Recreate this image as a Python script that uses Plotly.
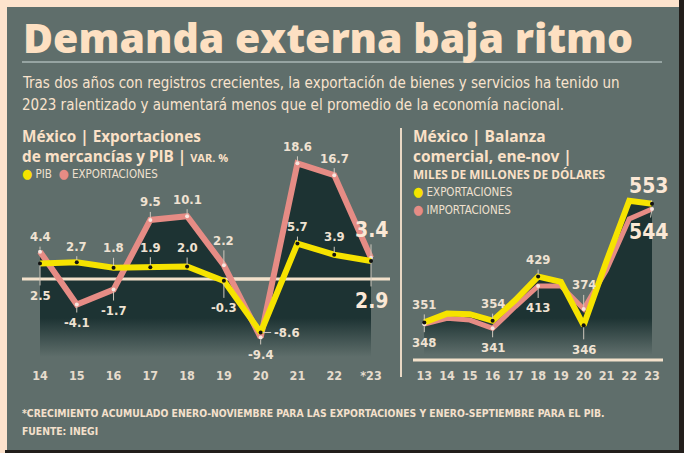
import plotly.graph_objects as go

W, H = 684, 453

# ---------------- data ----------------
L_CATS = ["14", "15", "16", "17", "18", "19", "20", "21", "22", "*23"]
PIB = [2.5, 2.7, 1.8, 1.9, 2.0, -0.3, -8.6, 5.7, 3.9, 2.9]
EXPORTS_VAR = [4.4, -4.1, -1.7, 9.5, 10.1, 2.2, -9.4, 18.6, 16.7, 3.4]

R_CATS = ["13", "14", "15", "16", "17", "18", "19", "20", "21", "22", "23"]
R_EXPORTS = [351, 366, 365, 354, 389, 429, 420, 346, 455, 558, 553]
R_IMPORTS = [348, 358, 355, 341, 378, 413, 413, 374, 440, 527, 544]
R_LABELED = ["13", "16", "18", "20", "23"]

TITLE = "Demanda externa baja ritmo"
SUBTITLE = ["Tras dos años con registros crecientes, la exportación de bienes y servicios ha tenido un",
            "2023 ralentizado y aumentará menos que el promedio de la economía nacional."]
L_HEAD = ["México | Exportaciones", "de mercancías y PIB | ", "VAR. %"]
R_HEAD = ["México | Balanza", "comercial, ene-nov |", "MILES DE MILLONES DE DÓLARES"]
FOOTNOTE = "*CRECIMIENTO ACUMULADO ENERO-NOVIEMBRE PARA LAS EXPORTACIONES Y ENERO-SEPTIEMBRE PARA EL PIB."
SOURCE = "FUENTE: INEGI"

# ---------------- style ----------------
PEACH = "#fde3cd"
PANEL = "#5f6e6b"
DARK = "#1d3333"
EDGE = "#221e1b"
YELLOW = "#f6e300"
PINK = "#e68c85"
TXT = "#fbe1c7"
LBL = "#efe2d2"
ZLINE = "#f3e1cb"
NARROW = "DejaVu Sans Condensed, Noto Sans, DejaVu Sans, sans-serif"
HEAVY = "Open Sans, Lato, sans-serif"


def cond(s):
    return f"<span style='font-stretch:condensed'>{s}</span>"


def px(x):
    return x / W


def py(y):
    return 1 - y / H


# axis geometry (pixels)
Y_DOM = [py(366), py(120)]
L_STEP = 331 / 9
L_XRANGE = [-(40 - 22) / L_STEP, (390 - 40) / L_STEP]
L_ZERO_PX = 279; L_PPU = 6.22
L_YRANGE = [(L_ZERO_PX - 366) / L_PPU, (L_ZERO_PX - 120) / L_PPU]
R_STEP = (652 - 424.3) / 10
R_XRANGE = [-(424.3 - 405) / R_STEP, (672 - 424.3) / R_STEP]
R_REF_V, R_REF_PX, R_PPU = 553, 203.7, 0.5877
R_YRANGE = [R_REF_V - (366 - R_REF_PX) / R_PPU, R_REF_V + (R_REF_PX - 120) / R_PPU]

L_BASE = -(357 - L_ZERO_PX) / L_PPU
L_GRAD_STOP = -(318 - L_ZERO_PX) / L_PPU
R_BASE = R_REF_V - (355 - R_REF_PX) / R_PPU
R_GRAD_STOP = R_REF_V - (318 - R_REF_PX) / R_PPU

fig = go.Figure()


def add_fill(cats, vals, base, stop, xa, ya):
    fig.add_trace(go.Scatter(x=cats, y=[base] * len(cats), mode="lines", line=dict(width=0),
                             xaxis=xa, yaxis=ya, showlegend=False, hoverinfo="skip"))
    fig.add_trace(go.Scatter(x=cats, y=vals, mode="lines", line=dict(width=0), fill="tonexty",
                             fillgradient=dict(type="vertical", start=base, stop=stop,
                                               colorscale=[[0, PANEL], [1, DARK]]),
                             xaxis=xa, yaxis=ya, showlegend=False, hoverinfo="skip"))


add_fill(L_CATS, EXPORTS_VAR, L_BASE, L_GRAD_STOP, "x", "y")
add_fill(L_CATS, PIB, L_BASE, L_GRAD_STOP, "x", "y")
add_fill(R_CATS, R_IMPORTS, R_BASE, R_GRAD_STOP, "x2", "y2")
add_fill(R_CATS, R_EXPORTS, R_BASE, R_GRAD_STOP, "x2", "y2")

# zero line drawn above the fill but below the series lines
fig.add_trace(go.Scatter(x=[L_CATS[0], L_CATS[-1]], y=[0, 0], mode="lines",
                         line=dict(color=ZLINE, width=3),
                         xaxis="x", yaxis="y", showlegend=False, hoverinfo="skip"))

fig.add_trace(go.Scatter(x=L_CATS, y=EXPORTS_VAR, mode="lines+markers",
                         line=dict(color=PINK, width=6),
                         marker=dict(color="#f7e6e0", size=4),
                         xaxis="x", yaxis="y", showlegend=False, hoverinfo="skip"))
fig.add_trace(go.Scatter(x=L_CATS, y=PIB, mode="lines+markers",
                         line=dict(color=YELLOW, width=6),
                         marker=dict(color="#111111", size=4),
                         xaxis="x", yaxis="y", showlegend=False, hoverinfo="skip"))

fig.add_trace(go.Scatter(x=R_CATS, y=R_IMPORTS, mode="lines",
                         line=dict(color=PINK, width=5),
                         xaxis="x2", yaxis="y2", showlegend=False, hoverinfo="skip"))
fig.add_trace(go.Scatter(x=R_CATS, y=R_EXPORTS, mode="lines",
                         line=dict(color=YELLOW, width=6),
                         xaxis="x2", yaxis="y2", showlegend=False, hoverinfo="skip"))
ri = [R_CATS.index(c) for c in R_LABELED]
fig.add_trace(go.Scatter(x=R_LABELED, y=[R_IMPORTS[i] for i in ri], mode="markers",
                         marker=dict(color="#f7e6e0", size=4),
                         xaxis="x2", yaxis="y2", showlegend=False, hoverinfo="skip"))
fig.add_trace(go.Scatter(x=R_LABELED, y=[R_EXPORTS[i] for i in ri], mode="markers",
                         marker=dict(color="#111111", size=4),
                         xaxis="x2", yaxis="y2", showlegend=False, hoverinfo="skip"))

annotations = []


def text(x, y, s, size, color=TXT, family=NARROW, weight=400, xanchor="left"):
    annotations.append(dict(xref="paper", yref="paper", x=px(x), y=py(y), text=s,
                            showarrow=False, xanchor=xanchor, yanchor="middle", align="left",
                            borderpad=0, xshift=-1,
                            font=dict(family=family, size=size, color=color, weight=weight)))


def point_label(xa, ya, idx, val, s, ax, ay, big=False):
    # idx: category index on the categorical axis
    annotations.append(dict(xref=xa, yref=ya, x=idx, y=val, text=cond(s), showarrow=True,
                            arrowhead=0, arrowwidth=1, arrowcolor="#cfc8bd", ax=ax, ay=ay,
                            standoff=2, startstandoff=1,
                            font=dict(family=NARROW, size=21 if big else 13,
                                      color="#fbe8d6" if big else LBL, weight=700)))


L_EXP_OFF = [(0, -15), (0, 18), (0, 21), (0, -18), (0, -17), (0, -25), (0, 17), (0, -17), (0, -17), (0, -28)]
L_PIB_OFF = [(0, 32), (0, -16), (0, -20), (0, -20), (0, -19), (0, 27), (26, 0), (0, -17), (0, -18), (0, 40)]
last = len(L_CATS) - 1
for i, c in enumerate(L_CATS):
    point_label("x", "y", i, EXPORTS_VAR[i], f"{EXPORTS_VAR[i]:.1f}", *L_EXP_OFF[i], big=(i == last))
    point_label("x", "y", i, PIB[i], f"{PIB[i]:.1f}", *L_PIB_OFF[i], big=(i == last))

R_EXP_OFF = {"13": (0, -18), "16": (0, -17), "18": (0, -17), "20": (0, 24), "23": (-4, -18)}
R_IMP_OFF = {"13": (0, 18), "16": (0, 19), "18": (0, 22), "20": (0, -24), "23": (-4, 23)}
for c in R_LABELED:
    i = R_CATS.index(c)
    point_label("x2", "y2", i, R_EXPORTS[i], f"{R_EXPORTS[i]:d}", *R_EXP_OFF[c], big=(c == "23"))
    point_label("x2", "y2", i, R_IMPORTS[i], f"{R_IMPORTS[i]:d}", *R_IMP_OFF[c], big=(c == "23"))

DOT = "<span style='font-size:13px;color:{}'>●</span>"

text(23, 37, TITLE, 41, color="#fde0c2", family=HEAVY, weight=800)
text(22, 83, cond(SUBTITLE[0]), 15, color="#f9e3cd")
text(22, 105, cond(SUBTITLE[1]), 15, color="#f9e3cd")

text(22, 146, L_HEAD[0] + "<br>" + L_HEAD[1] + f"<span style='font-size:11px'>{L_HEAD[2]}</span>",
     15.3, family=HEAVY, weight=700)
text(22, 174, cond(DOT.format(YELLOW) + " PIB  " + DOT.format(PINK) + " EXPORTACIONES"),
     11.5, color="#efe0cf")

text(413, 146, R_HEAD[0] + "<br>" + R_HEAD[1], 15.5, family=HEAVY, weight=700)
text(413, 174, R_HEAD[2], 11.8, family=HEAVY, weight=700)
text(413, 192, cond(DOT.format(YELLOW) + " EXPORTACIONES"), 11.5, color="#efe0cf")
text(413, 210, cond(DOT.format(PINK) + " IMPORTACIONES"), 11.5, color="#efe0cf")

text(22, 413, cond(FOOTNOTE), 10.3, color="#f4e0cc", weight=700)
text(22, 431, cond(SOURCE), 10.3, color="#f4e0cc", weight=700)

shapes = [
    dict(type="rect", xref="paper", yref="paper", x0=px(679), x1=1, y0=0, y1=1,
         fillcolor=EDGE, line=dict(width=0), layer="below"),
    dict(type="rect", xref="paper", yref="paper", x0=px(5), x1=1, y0=0, y1=py(450),
         fillcolor=EDGE, line=dict(width=0), layer="below"),
    dict(type="rect", xref="paper", yref="paper", x0=px(7), x1=px(679), y0=py(450), y1=py(7),
         fillcolor=PANEL, line=dict(width=0), layer="below"),
    dict(type="line", xref="paper", yref="paper", x0=px(22), x1=px(662), y0=py(62), y1=py(62),
         line=dict(color="#a9b7b4", width=1.5)),
    dict(type="line", xref="paper", yref="paper", x0=px(401), x1=px(401), y0=py(128), y1=py(377),
         line=dict(color="#e9d8c4", width=2)),
    dict(type="line", xref="paper", yref="y", x0=px(22), x1=px(390), y0=0, y1=0,
         line=dict(color=ZLINE, width=3), layer="below"),
    dict(type="line", xref="paper", yref="paper", x0=px(413), x1=px(663), y0=py(360), y1=py(360),
         line=dict(color=ZLINE, width=3)),
]

axis_common = dict(showgrid=False, zeroline=False, showline=False, ticks="", fixedrange=True)
tickfont = dict(family=NARROW, size=12.5, color="#e6dccd", weight=700)
fig.update_layout(
    width=W, height=H, autosize=False,
    margin=dict(l=0, r=0, t=0, b=0),
    paper_bgcolor=PEACH, plot_bgcolor="rgba(0,0,0,0)",
    showlegend=False, hovermode=False,
    xaxis=dict(domain=[px(22), px(390)], range=L_XRANGE, type="category", anchor="y",
               tickfont=tickfont, **axis_common),
    yaxis=dict(domain=Y_DOM, range=L_YRANGE, showticklabels=False, anchor="x", **axis_common),
    xaxis2=dict(domain=[px(405), px(672)], range=R_XRANGE, type="category", anchor="y2",
                tickfont=tickfont, **axis_common),
    yaxis2=dict(domain=Y_DOM, range=R_YRANGE, showticklabels=False, anchor="x2", **axis_common),
    annotations=annotations,
    shapes=shapes,
)

fig.write_html("out.html", config={"displayModeBar": False},
               post_script="document.body.style.margin='0';document.body.style.overflow='hidden';")
